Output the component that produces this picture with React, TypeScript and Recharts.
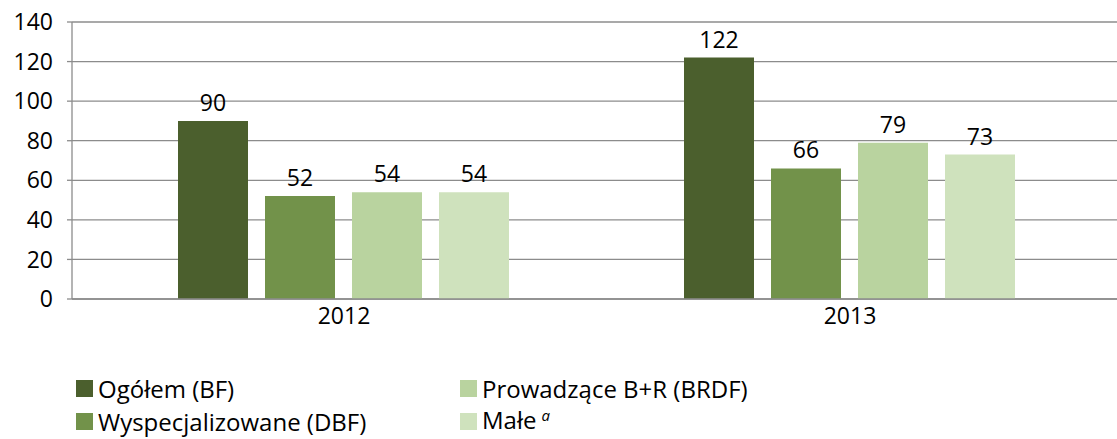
import { BarChart, Bar, XAxis, YAxis, CartesianGrid, LabelList } from 'recharts';

const years = ['2012', '2013'];
const ogolem = [90, 122];
const wyspecjalizowane = [52, 66];
const prowadzace = [54, 79];
const male = [54, 73];
const yTicks = [0, 20, 40, 60, 80, 100, 120, 140];

const series = [
  { key: 'ogolem', name: 'Ogółem (BF)', color: '#4B5F2D', values: ogolem },
  { key: 'wysp', name: 'Wyspecjalizowane (DBF)', color: '#72924A', values: wyspecjalizowane },
  { key: 'prow', name: 'Prowadzące B+R (BRDF)', color: '#B9D39F', values: prowadzace },
  { key: 'male', name: 'Małe', color: '#CFE2BD', values: male, sup: 'a' },
];

const data = years.map((year, i) => {
  const row: Record<string, string | number> = { year };
  series.forEach((s) => {
    row[s.key] = s.values[i];
  });
  return row;
});

const FONT = '"Open Sans", Lato, sans-serif';
const GRID = '#8C8C8C';

function LegendItem({ s }: { s: (typeof series)[number] }) {
  return (
    <div style={{ display: 'flex', alignItems: 'center', height: 33 }}>
      <div style={{ width: 17, height: 17, background: s.color, marginRight: 5, flexShrink: 0 }} />
      <span style={{ lineHeight: '33px', whiteSpace: 'nowrap' }}>
        {s.name}
        {s.sup && (
          <span
            style={{
              fontStyle: 'italic',
              fontSize: 15,
              marginLeft: 5,
              position: 'relative',
              top: -8,
            }}
          >
            {s.sup}
          </span>
        )}
      </span>
    </div>
  );
}

export default function App() {
  return (
    <div
      style={{
        position: 'fixed',
        left: 0,
        top: 0,
        width: 1117,
        height: 439,
        overflow: 'hidden',
        background: '#fff',
        fontFamily: FONT,
      }}
    >
      <BarChart
        width={1117}
        height={340}
        data={data}
        margin={{ top: 22, right: 0, bottom: 0, left: 0 }}
        barCategoryGap={87}
        barGap={17}
      >
        <CartesianGrid vertical={false} stroke={GRID} strokeWidth={1.3} />
        <XAxis
          dataKey="year"
          height={41}
          padding={{ left: 19, right: 14 }}
          axisLine={{ stroke: GRID, strokeWidth: 1.3 }}
          tickLine={false}
          tickMargin={3}
          tick={{ fill: '#000', fontSize: 23, fontFamily: FONT }}
        />
        <YAxis
          width={72}
          domain={[0, 140]}
          ticks={yTicks}
          interval={0}
          axisLine={{ stroke: GRID, strokeWidth: 1.3 }}
          tickLine={{ stroke: GRID, strokeWidth: 1.3 }}
          tickSize={5}
          tickMargin={14}
          tick={{ fill: '#000', fontSize: 23, fontFamily: FONT }}
        />
        {series.map((s) => (
          <Bar key={s.key} dataKey={s.key} name={s.name} fill={s.color} isAnimationActive={false}>
            <LabelList
              dataKey={s.key}
              position="top"
              offset={10}
              fill="#000"
              fontSize={23}
              fontFamily={FONT}
            />
          </Bar>
        ))}
      </BarChart>
      <div
        style={{
          position: 'absolute',
          left: 76,
          top: 372,
          display: 'grid',
          gridTemplateColumns: '384px auto',
          fontSize: 24,
          color: '#000',
        }}
      >
        <LegendItem s={series[0]} />
        <LegendItem s={series[2]} />
        <LegendItem s={series[1]} />
        <LegendItem s={series[3]} />
      </div>
    </div>
  );
}
